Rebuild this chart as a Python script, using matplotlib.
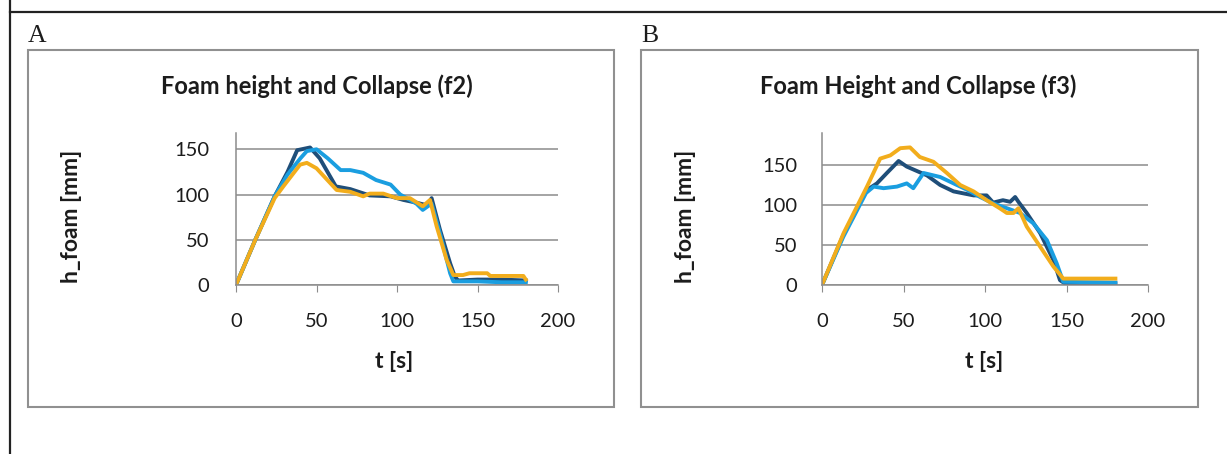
import matplotlib
matplotlib.use("Agg")
import matplotlib.pyplot as plt
from matplotlib.patches import Rectangle
from matplotlib.lines import Line2D

# ---- data ----
# panel A (f2)
tA_navy = [0, 12, 24, 32, 38, 46, 52, 62, 71, 83, 96, 104, 112, 119, 121.5, 126.7, 133, 136, 138, 150, 165, 180]
hA_navy = [0, 50, 98, 125, 149, 152, 140, 109, 106, 99, 98, 94, 91, 88, 96, 61, 24, 9, 5, 6, 6, 5]
tA_blue = [0, 12, 24, 32, 40, 44, 50, 57, 65, 71, 79, 87, 96, 102, 112, 116, 121.5, 127, 133, 135, 150, 165, 180]
hA_blue = [0, 50, 98, 122, 140, 148, 150, 140, 127, 127, 124, 116, 111, 100, 90, 83, 90, 55, 13, 4, 4, 3, 3]
tA_orng = [0, 12, 24, 29.4, 39.8, 44, 50, 62.5, 71, 79, 83, 91.5, 100, 108, 116, 120.5, 124.6, 130.8, 135, 141, 145, 156, 158, 178.5, 180]
hA_orng = [0, 50, 96, 109, 133, 135, 129, 105, 103, 98, 101, 101, 96, 96, 87, 94, 65, 28, 11, 11, 13, 13, 10, 10, 6]

# panel B (f3)
tB_navy = [0, 13, 27, 33.7, 39.8, 47, 52, 64.4, 72.5, 80.7, 93, 101, 105, 111, 115.4, 118.5, 120.5, 125.6, 133.8, 142, 146, 149, 180]
hB_navy = [0, 62, 118, 127, 140, 155, 148, 137, 125, 117, 112, 112, 103, 106, 104, 110, 104, 90, 65, 31, 6, 2, 2]
tB_blue = [0, 13, 27, 31.7, 37.8, 46, 52, 56, 62.3, 72.5, 80.7, 89, 97, 105, 113.4, 121.5, 129.7, 138, 144, 148, 180]
hB_blue = [0, 60, 115, 123, 121, 123, 127, 121, 140, 135, 127, 119, 110, 102, 96, 90, 77, 56, 27, 4, 3]
tB_orng = [0, 13.3, 27.6, 35.7, 41.9, 48, 54, 60, 68.4, 76.6, 84.8, 93, 101, 109, 113.4, 117.5, 120.5, 125.6, 133.8, 142, 148, 180]
hB_orng = [0, 65, 123, 158, 162, 171, 172, 160, 154, 140, 125, 117, 106, 96, 90, 90, 96, 73, 48, 23, 8, 8]

x_ticks = [0, 50, 100, 150, 200]
y_ticks = [0, 50, 100, 150]

NAVY = "#1f4e79"
BLUE = "#1a9ee0"
ORNG = "#f2ad1c"
GRID = "#8c8c8c"
TXT = "#1c1c1c"

plt.rcParams['font.family'] = ['Lato', 'DejaVu Sans']

W, H = 1227, 454
fig = plt.figure(figsize=(W / 100, H / 100), dpi=100)


def fx(px):
    return px / W


def fy(py):
    return 1 - py / H


# outer page lines
fig.add_artist(Line2D([fx(10), 1], [fy(12), fy(12)], color="#222222", lw=1.6))
fig.add_artist(Line2D([fx(10), fx(10)], [0, 1], color="#222222", lw=1.6))

# chart frames
for x0, x1 in [(28, 614), (641, 1198)]:
    fig.add_artist(Rectangle((fx(x0), fy(407)), fx(x1 - x0), (407 - 50) / H,
                             fill=False, edgecolor="#909090", lw=1.5))


def panel(rect, ymax, series, title, letter, letter_x, title_x, ylab_x, xlab_x, ypad):
    ax = fig.add_axes(rect)
    for t, h, c in series:
        ax.plot(t, h, color=c, lw=2.8, solid_joinstyle="round")
    ax.set_xlim(0, 200)
    ax.set_ylim(0, ymax)
    ax.set_xticks(x_ticks)
    ax.set_yticks(y_ticks)
    ax.yaxis.grid(True, color=GRID, lw=1.1)
    ax.set_axisbelow(True)
    for s in ["top", "right"]:
        ax.spines[s].set_visible(False)
    for s in ["left", "bottom"]:
        ax.spines[s].set_color(GRID)
        ax.spines[s].set_linewidth(1.1)
    ax.tick_params(axis="x", direction="out", length=5, color=GRID, pad=15, labelsize=14.5, labelcolor=TXT)
    ax.tick_params(axis="y", length=0, pad=ypad, labelsize=14.5, labelcolor=TXT)
    ax.set_facecolor("none")
    fig.text(fx(title_x), fy(86), title, ha="center", va="center", fontsize=17, fontweight="bold", color=TXT)
    fig.text(fx(letter_x), fy(36), letter, ha="left", va="center", fontsize=18.5, family="Liberation Serif", color=TXT)
    fig.text(fx(ylab_x), fy(216), "h_foam [mm]", ha="center", va="center", rotation=90, fontsize=16.5, fontweight="bold", color=TXT)
    fig.text(fx(xlab_x), fy(361), "t [s]", ha="center", va="center", fontsize=16.5, fontweight="bold", color=TXT)
    return ax


top = fy(133)
bot = fy(285)
panel([fx(236), bot, fx(558) - fx(236), top - bot], 168,
      [(tA_navy, hA_navy, NAVY), (tA_blue, hA_blue, BLUE), (tA_orng, hA_orng, ORNG)],
      "Foam height and Collapse (f2)", "A", 28, 317, 71, 394, 19)
panel([fx(822), bot, fx(1148) - fx(822), top - bot], 190,
      [(tB_navy, hB_navy, NAVY), (tB_blue, hB_blue, BLUE), (tB_orng, hB_orng, ORNG)],
      "Foam Height and Collapse (f3)", "B", 641, 918, 686, 984, 18)

fig.savefig("out.png", dpi=100)
